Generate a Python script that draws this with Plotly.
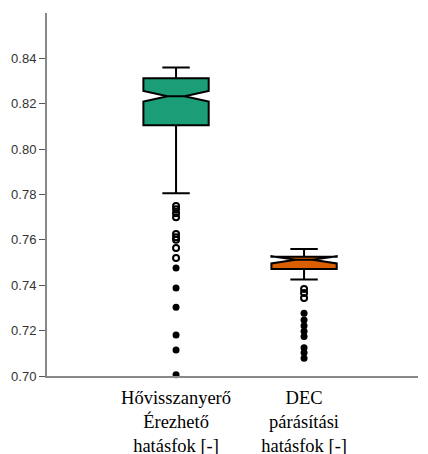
import plotly.graph_objects as go

categories = ["Hővisszanyerő<br>Érezhető<br>hatásfok [-]", "DEC<br>párásítási<br>hatásfok [-]"]
positions = [0, 1]
q1 = [0.8105, 0.7472]
median = [0.8233, 0.7512]
q3 = [0.8312, 0.7526]
lower_whisker = [0.7805, 0.7425]
upper_whisker = [0.8360, 0.7560]
notch_span = [0.0023, 0.0016]
colors = ["#1b9e77", "#d95f02"]

# outliers (open circles) and extreme values (filled)
outliers_1 = [0.7749, 0.7735, 0.7717, 0.7700, 0.7626, 0.7612, 0.7600, 0.7564, 0.7520]
extremes_1 = [0.7476, 0.7388, 0.7303, 0.7181, 0.7115, 0.7005]
outliers_2 = [0.7384, 0.7366, 0.7344]
extremes_2 = [0.7277, 0.7247, 0.7221, 0.7197, 0.7174, 0.7124, 0.7102, 0.7078]

fig = go.Figure()
for i in range(2):
    fig.add_trace(go.Box(
        x=[positions[i]], q1=[q1[i]], median=[median[i]], q3=[q3[i]],
        lowerfence=[lower_whisker[i]], upperfence=[upper_whisker[i]],
        notched=True, notchspan=[notch_span[i]], notchwidth=0.37,
        width=0.51, whiskerwidth=0.42,
        fillcolor=colors[i], line=dict(color="black", width=2),
        boxpoints=False, showlegend=False, hoverinfo="skip",
    ))

for pos, outl, ext in [(positions[0], outliers_1, extremes_1), (positions[1], outliers_2, extremes_2)]:
    fig.add_trace(go.Scatter(
        x=[pos] * len(outl), y=outl, mode="markers",
        marker=dict(symbol="circle-open", size=6, color="black", line=dict(width=2)),
        showlegend=False,
    ))
    fig.add_trace(go.Scatter(
        x=[pos] * len(ext), y=ext, mode="markers",
        marker=dict(symbol="circle", size=7, color="black"),
        showlegend=False, cliponaxis=False,
    ))

fig.update_layout(
    width=428, height=454,
    margin=dict(l=47, r=10, t=13, b=78),
    plot_bgcolor="white", paper_bgcolor="white",
    xaxis=dict(
        range=[-1.008, 1.89], tickmode="array", tickvals=positions, ticktext=categories,
        showgrid=False, zeroline=False, showline=True, linecolor="#888", linewidth=2,
        ticks="outside", ticklen=4, tickcolor="rgba(0,0,0,0)", automargin=False,
        tickfont=dict(family="Liberation Serif", size=18.5, color="black"),
    ),
    yaxis=dict(
        range=[0.70, 0.86], tickvals=[0.70, 0.72, 0.74, 0.76, 0.78, 0.80, 0.82, 0.84],
        tickformat=".2f", showgrid=False, zeroline=False, showline=True, automargin=False,
        linecolor="#888", linewidth=2, ticks="outside", ticklen=6, tickcolor="#555",
        tickwidth=1, tickfont=dict(family="Liberation Sans", size=13, color="#333"),
    ),
)
fig.write_html("out.html")
